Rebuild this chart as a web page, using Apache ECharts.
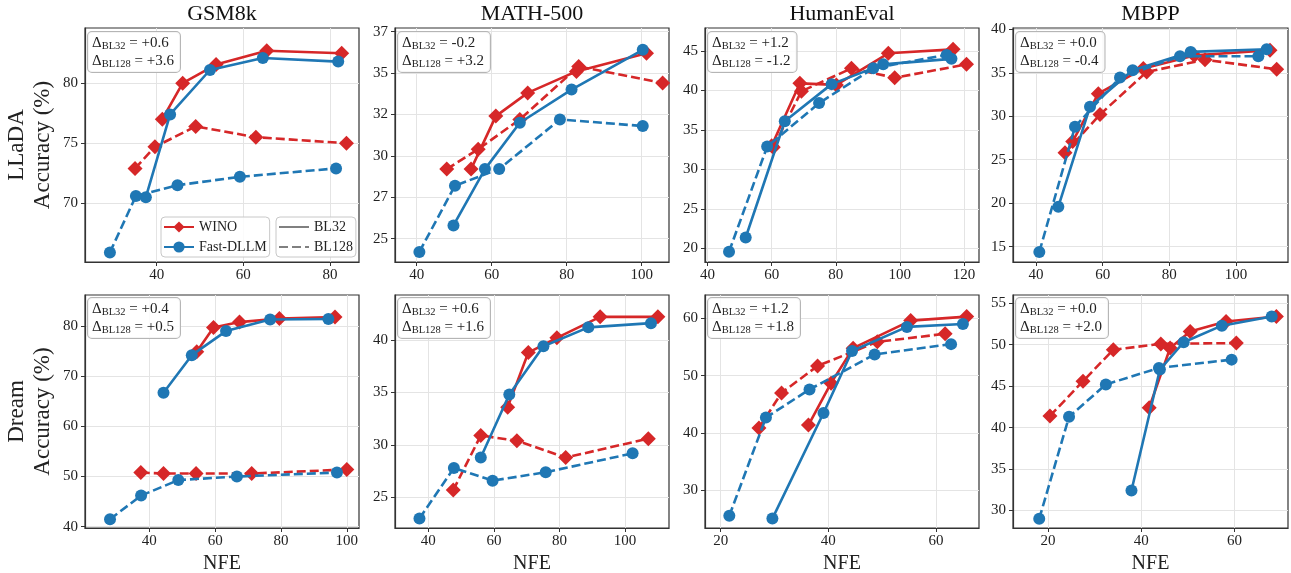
<!DOCTYPE html>
<html><head><meta charset="utf-8">
<script src="https://cdn.jsdelivr.net/npm/echarts@6/dist/echarts.min.js"></script>
<style>html,body{margin:0;padding:0;background:#fff}#c{width:1291px;height:573px}</style>
</head><body><div id="c"></div>
<script>
// ---------------- DATA ----------------
const benchmarks = ['GSM8k', 'MATH-500', 'HumanEval', 'MBPP'];
const models = ['LLaDA', 'Dream'];
const methods = ['WINO', 'Fast-DLLM'];
const blockLengths = ['BL32', 'BL128'];

// [NFE, accuracy] pairs
// LLaDA
const llada_gsm8k_wino_bl32 = [[41.3,77.0],[46.0,80.0],[53.7,81.55],[65.4,82.7],[82.7,82.5]];
const llada_gsm8k_wino_bl128 = [[35.0,72.9],[39.6,74.7],[49.0,76.4],[62.9,75.5],[83.8,75.0]];
const llada_gsm8k_fast_bl32 = [[37.5,70.5],[43.1,77.4],[52.3,81.1],[64.5,82.1],[81.9,81.8]];
const llada_gsm8k_fast_bl128 = [[29.2,65.9],[35.2,70.6],[44.8,71.5],[59.2,72.2],[81.4,72.9]];

const llada_math_wino_bl32 = [[54.5,29.2],[61.1,32.4],[69.6,33.8],[82.6,35.1],[101.3,36.2]];
const llada_math_wino_bl128 = [[48.0,29.2],[56.4,30.4],[67.5,32.2],[83.2,35.4],[105.6,34.4]];
const llada_math_fast_bl32 = [[49.8,25.8],[58.2,29.2],[67.5,32.0],[81.3,34.0],[100.3,36.4]];
const llada_math_fast_bl128 = [[40.7,24.2],[50.2,28.2],[62.0,29.2],[78.2,32.2],[100.3,31.8]];

const llada_humaneval_wino_bl32 = [[60.0,33.0],[68.8,40.9],[80.2,40.7],[96.4,44.7],[116.6,45.2]];
const llada_humaneval_wino_bl128 = [[60.5,32.8],[69.3,39.9],[84.9,42.8],[98.4,41.6],[120.8,43.3]];
const llada_humaneval_fast_bl32 = [[51.9,21.4],[64.1,36.1],[78.7,40.8],[94.8,43.3],[116.1,44.0]];
const llada_humaneval_fast_bl128 = [[46.7,19.6],[58.6,32.9],[74.8,38.4],[91.7,42.8],[114.6,44.5]];

const llada_mbpp_wino_bl32 = [[51.0,27.1],[58.7,32.6],[72.2,35.5],[87.5,37.0],[110.2,37.6]];
const llada_mbpp_wino_bl128 = [[48.7,25.8],[59.2,30.2],[73.2,35.1],[90.7,36.5],[112.2,35.4]];
const llada_mbpp_fast_bl32 = [[46.7,19.6],[56.2,31.1],[69.0,35.3],[86.4,37.4],[109.2,37.7]];
const llada_mbpp_fast_bl128 = [[41.0,14.4],[51.7,28.8],[65.2,34.45],[83.2,36.9],[106.7,36.9]];

// Dream
const dream_gsm8k_wino_bl32 = [[54.4,74.9],[59.5,79.7],[67.4,80.8],[79.5,81.5],[96.4,81.8]];
const dream_gsm8k_wino_bl128 = [[37.4,50.8],[44.3,50.6],[54.2,50.6],[71.1,50.6],[100.0,51.4]];
const dream_gsm8k_fast_bl32 = [[44.3,66.7],[52.9,74.2],[63.3,79.0],[76.7,81.3],[94.4,81.4]];
const dream_gsm8k_fast_bl128 = [[28.05,41.5],[37.5,46.2],[48.8,49.3],[66.6,50.0],[97.0,50.8]];

const dream_math_wino_bl32 = [[64.2,33.6],[70.5,38.8],[79.2,40.2],[92.4,42.2],[110.0,42.2]];
const dream_math_wino_bl128 = [[47.6,25.7],[56.0,30.9],[67.0,30.4],[81.9,28.8],[107.1,30.6]];
const dream_math_fast_bl32 = [[56.0,28.8],[64.7,34.8],[75.1,39.4],[88.8,41.2],[107.9,41.6]];
const dream_math_fast_bl128 = [[37.3,23.0],[47.8,27.8],[59.6,26.6],[75.8,27.4],[102.3,29.2]];

const dream_humaneval_wino_bl32 = [[36.3,41.4],[40.5,48.7],[44.6,54.8],[55.3,59.6],[65.7,60.3]];
const dream_humaneval_wino_bl128 = [[27.1,40.9],[31.3,47.0],[38.0,51.7],[49.1,55.9],[61.7,57.3]];
const dream_humaneval_fast_bl32 = [[29.6,25.1],[39.1,43.5],[44.4,54.3],[54.6,58.5],[65.0,59.0]];
const dream_humaneval_fast_bl128 = [[21.6,25.6],[28.4,42.7],[36.5,47.6],[48.6,53.7],[62.8,55.5]];

const dream_mbpp_wino_bl32 = [[41.7,42.4],[46.2,49.6],[50.5,51.6],[58.2,52.8],[69.0,53.4]];
const dream_mbpp_wino_bl128 = [[20.4,41.4],[27.5,45.6],[34.0,49.4],[44.2,50.1],[60.4,50.2]];
const dream_mbpp_fast_bl32 = [[37.9,32.4],[44.0,47.0],[49.1,50.3],[57.3,52.3],[68.0,53.4]];
const dream_mbpp_fast_bl128 = [[18.1,29.0],[24.5,41.3],[32.4,45.2],[43.8,47.2],[59.4,48.2]];

// Delta annotations per panel (row-major)
const deltaBL32 = ['+0.6', '-0.2', '+1.2', '+0.0', '+0.4', '+0.6', '+1.2', '+0.0'];
const deltaBL128 = ['+3.6', '+3.2', '-1.2', '-0.4', '+0.5', '+1.6', '+1.8', '+2.0'];

// Tick values per panel
const xTickValues = [
  [40, 60, 80], [40, 60, 80, 100], [40, 60, 80, 100, 120], [40, 60, 80, 100],
  [40, 60, 80, 100], [40, 60, 80, 100], [20, 40, 60], [20, 40, 60]
];
const yTickValues = [
  [70, 75, 80], [25, 27.5, 30, 32.5, 35, 37.5], [20, 25, 30, 35, 40, 45], [15, 20, 25, 30, 35, 40],
  [40, 50, 60, 70, 80], [25, 30, 35, 40], [30, 40, 50, 60], [30, 35, 40, 45, 50, 55]
];

// ---------------- LAYOUT ----------------
const panelSeries = [
  [llada_gsm8k_wino_bl32, llada_gsm8k_wino_bl128, llada_gsm8k_fast_bl32, llada_gsm8k_fast_bl128],
  [llada_math_wino_bl32, llada_math_wino_bl128, llada_math_fast_bl32, llada_math_fast_bl128],
  [llada_humaneval_wino_bl32, llada_humaneval_wino_bl128, llada_humaneval_fast_bl32, llada_humaneval_fast_bl128],
  [llada_mbpp_wino_bl32, llada_mbpp_wino_bl128, llada_mbpp_fast_bl32, llada_mbpp_fast_bl128],
  [dream_gsm8k_wino_bl32, dream_gsm8k_wino_bl128, dream_gsm8k_fast_bl32, dream_gsm8k_fast_bl128],
  [dream_math_wino_bl32, dream_math_wino_bl128, dream_math_fast_bl32, dream_math_fast_bl128],
  [dream_humaneval_wino_bl32, dream_humaneval_wino_bl128, dream_humaneval_fast_bl32, dream_humaneval_fast_bl128],
  [dream_mbpp_wino_bl32, dream_mbpp_wino_bl128, dream_mbpp_fast_bl32, dream_mbpp_fast_bl128]
];
const axisRanges = [
  {x: [23.45, 86.7], y: [65.1, 84.6]},
  {x: [34.2, 107.3], y: [23.59, 37.72]},
  {x: [39.2, 124.7], y: [18.3, 47.9]},
  {x: [33.1, 115.6], y: [13.24, 40.15]},
  {x: [20.45, 103.7], y: [39.74, 86.2]},
  {x: [29.84, 113.4], y: [22.09, 44.28]},
  {x: [17.08, 67.99], y: [23.46, 64.06]},
  {x: [12.47, 71.5], y: [27.88, 56.0]}
];
const colLeft = [85, 395, 705, 1013];
const colWidth = [274, 274, 274, 275];
const rowTop = [28, 295];
const rowHeight = [234, 233];

const FONT = 'Liberation Serif';
const RED = '#d62728', BLUE = '#1f77b4', GRAY = '#808080';
const DASH = [9, 4];
const TXT = '#222';

const grids = [], xAxes = [], yAxes = [], series = [], graphics = [];
for (let i = 0; i < 8; i++) {
  const row = Math.floor(i / 4), col = i % 4;
  grids.push({
    left: colLeft[col], top: rowTop[row], width: colWidth[col], height: rowHeight[row],
    show: true, borderColor: '#333', borderWidth: 1.2, backgroundColor: '#fff',
    containLabel: false, outerBoundsMode: 'none'
  });
  xAxes.push({
    type: 'value', gridIndex: i, min: axisRanges[i].x[0], max: axisRanges[i].x[1],
    axisLine: {show: true, onZero: false, lineStyle: {color: '#333', width: 1.2}},
    axisTick: {show: true, length: 4, lineStyle: {color: '#333'}, customValues: xTickValues[i]},
    axisLabel: {customValues: xTickValues[i], fontFamily: FONT, fontSize: 15, color: TXT, margin: 6,
      showMinLabel: true, showMaxLabel: true, formatter: v => String(Math.trunc(v))},
    splitLine: {show: true, lineStyle: {color: '#e4e4e4', width: 1}},
    name: row === 1 ? 'NFE' : '', nameLocation: 'middle', nameGap: 26,
    nameTextStyle: {fontFamily: FONT, fontSize: 20, color: TXT}
  });
  yAxes.push({
    type: 'value', gridIndex: i, min: axisRanges[i].y[0], max: axisRanges[i].y[1],
    axisLine: {show: true, onZero: false, lineStyle: {color: '#333', width: 1.2}},
    axisTick: {show: true, length: 4, lineStyle: {color: '#333'}, customValues: yTickValues[i]},
    axisLabel: {customValues: yTickValues[i], fontFamily: FONT, fontSize: 15, color: TXT, margin: 7,
      formatter: v => String(Math.trunc(v))},
    splitLine: {show: true, lineStyle: {color: '#e4e4e4', width: 1}},
    name: col === 0 ? models[row] + '\nAccuracy (%)' : '', nameLocation: 'middle', nameRotate: 90, nameGap: 29,
    nameTextStyle: {fontFamily: FONT, fontSize: 23, lineHeight: 26, color: TXT}
  });
  const defs = [
    {name: 'WINO', color: RED, dashed: false, symbol: 'diamond', size: 15},
    {name: 'WINO', color: RED, dashed: true, symbol: 'diamond', size: 15},
    {name: 'Fast-DLLM', color: BLUE, dashed: false, symbol: 'circle', size: 12},
    {name: 'Fast-DLLM', color: BLUE, dashed: true, symbol: 'circle', size: 12}
  ];
  defs.forEach((d, k) => {
    series.push({
      type: 'line', name: d.name, xAxisIndex: i, yAxisIndex: i,
      data: panelSeries[i][k], symbol: d.symbol, symbolSize: d.size, showSymbol: true,
      lineStyle: {color: d.color, width: 2.6, type: d.dashed ? DASH : 'solid'},
      itemStyle: {color: d.color}, z: 3 + k, animation: false, silent: true
    });
  });
  // Title (column header)
  if (row === 0) {
    graphics.push({type: 'text', x: colLeft[col] + colWidth[col] / 2, y: 14, z: 50,
      style: {text: benchmarks[col], font: '22px "' + FONT + '"', fill: '#111', align: 'center', verticalAlign: 'middle'}});
  }
  // Delta annotation box
  graphics.push({
    type: 'text', x: colLeft[col] + 3, y: rowTop[row] + (row === 0 ? 4 : 3), z: 60,
    style: {
      text: '{d|\u0394}{s|BL32}{n| = ' + deltaBL32[i] + '}\n{d|\u0394}{s|BL128}{n| = ' + deltaBL128[i] + '}',
      rich: {
        d: {fontFamily: FONT, fontSize: 15, lineHeight: 18, fill: TXT},
        s: {fontFamily: FONT, fontSize: 10.5, lineHeight: 11, verticalAlign: 'bottom', fill: TXT},
        n: {fontFamily: FONT, fontSize: 15, lineHeight: 18, fill: TXT}
      },
      backgroundColor: 'rgba(255,255,255,0.85)', borderColor: '#b5b5b5', borderWidth: 1, borderRadius: 4,
      padding: [2, 6, 2, 4]
    }
  });
}
// Dummy series for the block length legend
series.push({type: 'line', name: 'BL32', xAxisIndex: 0, yAxisIndex: 0, data: [], symbol: 'none',
  lineStyle: {color: GRAY, width: 2.6, type: 'solid'}, itemStyle: {color: GRAY}});
series.push({type: 'line', name: 'BL128', xAxisIndex: 0, yAxisIndex: 0, data: [], symbol: 'none',
  lineStyle: {color: GRAY, width: 2.6, type: DASH}, itemStyle: {color: GRAY}});

const legendCommon = {
  orient: 'vertical', itemWidth: 30, itemHeight: 14, itemGap: 6, padding: [3, 3, 3, 2],
  borderColor: '#c8c8c8', borderWidth: 1, borderRadius: 4, backgroundColor: 'rgba(255,255,255,0.85)',
  textStyle: {fontFamily: FONT, fontSize: 14, color: TXT}, selectedMode: false, z: 70
};
const hiddenSymbol = {color: 'rgba(0,0,0,0)', borderColor: 'rgba(0,0,0,0)', borderWidth: 0, opacity: 0};

const chart = echarts.init(document.getElementById('c'), null, {renderer: 'canvas'});
chart.setOption({
  animation: false,
  backgroundColor: '#fff',
  grid: grids, xAxis: xAxes, yAxis: yAxes, series: series,
  legend: [
    Object.assign({}, legendCommon, {data: methods, left: 161, top: 217}),
    Object.assign({}, legendCommon, {
      data: blockLengths.map(n => ({name: n, itemStyle: hiddenSymbol})), left: 276, top: 217})
  ],
  graphic: graphics
});
</script>
</body></html>
